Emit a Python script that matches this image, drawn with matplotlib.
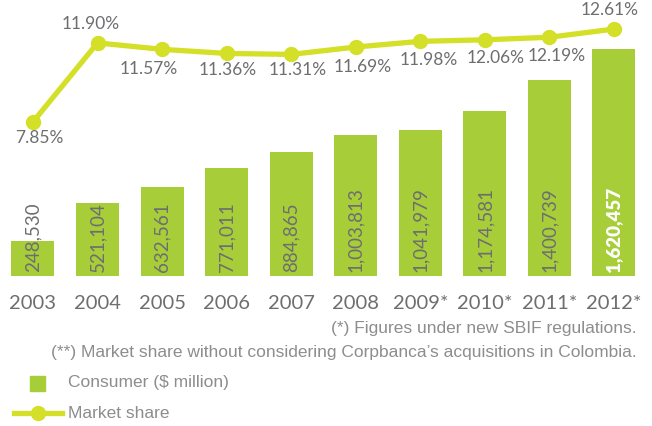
import numpy as np
import matplotlib
matplotlib.use("Agg")
import matplotlib.pyplot as plt
from matplotlib.patches import Rectangle
from matplotlib.lines import Line2D

# data
years = ["2003", "2004", "2005", "2006", "2007", "2008", "2009*", "2010*", "2011*", "2012*"]
consumer = [248530, 521104, 632561, 771011, 884865, 1003813, 1041979, 1174581, 1400739, 1620457]
share = [7.85, 11.90, 11.57, 11.36, 11.31, 11.69, 11.98, 12.06, 12.19, 12.61]

# label offsets (pixels) of the percentage labels relative to their points
share_dx = [6, -7, -13, 1, 6, 7, 8, 11, 7, -4]
share_dy = [-16, 19, -20, -17, -16, -20, -19, -18, -19, 19]

BAR = "#A7CD39"
LINE = "#D4DF27"
TEXT = "#6D6E70"
NOTE = "#8C8D8F"
NUM_FONT = ["Lato", "DejaVu Sans"]
NOTE_FONT = ["Liberation Sans Narrow", "Liberation Sans", "DejaVu Sans"]

W, H = 652, 426
fig = plt.figure(figsize=(W / 100, H / 100), dpi=100)
ax = fig.add_axes([0, (H - 276) / H, 1, 276 / H])

x = np.arange(len(years))
ax.bar(x, consumer, width=0.666, color=BAR, zorder=1)
ax.set_xlim(-0.511, 9.589)
ax.set_ylim(0, 1620457 * 276 / 227)

for xi, v in zip(x, consumer):
    last = xi == len(x) - 1
    ax.annotate(f"{v:,}", (xi, 0), xytext=(0, 4), textcoords="offset pixels",
                rotation=90, ha="center", va="bottom", fontsize=13.5,
                family=NUM_FONT, color="white" if last else TEXT,
                fontweight="heavy" if last else "normal")

ax.set_xticks(x)
ax.set_xticklabels(years, fontsize=14.5, color=TEXT, family=NUM_FONT)
ax.tick_params(axis="x", length=0, pad=14)
ax.set_yticks([])
for s in ax.spines.values():
    s.set_visible(False)

ax2 = ax.twinx()
ax2.plot(x, share, color=LINE, lw=3.8, marker="o", markersize=10, zorder=3)
ax2.set_ylim(-0.05, 14.10)
ax2.set_yticks([])
for s in ax2.spines.values():
    s.set_visible(False)
for xi, v, dx, dy in zip(x, share, share_dx, share_dy):
    ax2.annotate(f"{v:.2f}%", (xi, v), xytext=(dx, dy), textcoords="offset pixels",
                 ha="center", va="center", fontsize=12.5, color=TEXT,
                 family=NUM_FONT)

# footnotes
fig.text(637 / W, 1 - 329 / H, "(*) Figures under new SBIF regulations.",
         ha="right", va="center", fontsize=12.5, color=NOTE, family=NOTE_FONT)
fig.text(637 / W, 1 - 352 / H,
         "(**) Market share without considering Corpbanca\u2019s acquisitions in Colombia.",
         ha="right", va="center", fontsize=12.5, color=NOTE, family=NOTE_FONT)

# legend drawn by hand
fig.add_artist(Rectangle((30 / W, 1 - 391 / H), 15 / W, 15 / H,
                         transform=fig.transFigure, color=BAR))
fig.text(68 / W, 1 - 383 / H, "Consumer ($ million)", ha="left", va="center",
         fontsize=12.5, color=NOTE, family=NOTE_FONT)
fig.add_artist(Line2D([14 / W, 62 / W], [1 - 413 / H] * 2, transform=fig.transFigure,
                      color=LINE, lw=3.8))
fig.add_artist(Line2D([38 / W], [1 - 413 / H], transform=fig.transFigure,
                      color=LINE, marker="o", markersize=10))
fig.text(68 / W, 1 - 413 / H, "Market share", ha="left", va="center",
         fontsize=12.5, color=NOTE, family=NOTE_FONT)

fig.savefig("out.png", dpi=100)
